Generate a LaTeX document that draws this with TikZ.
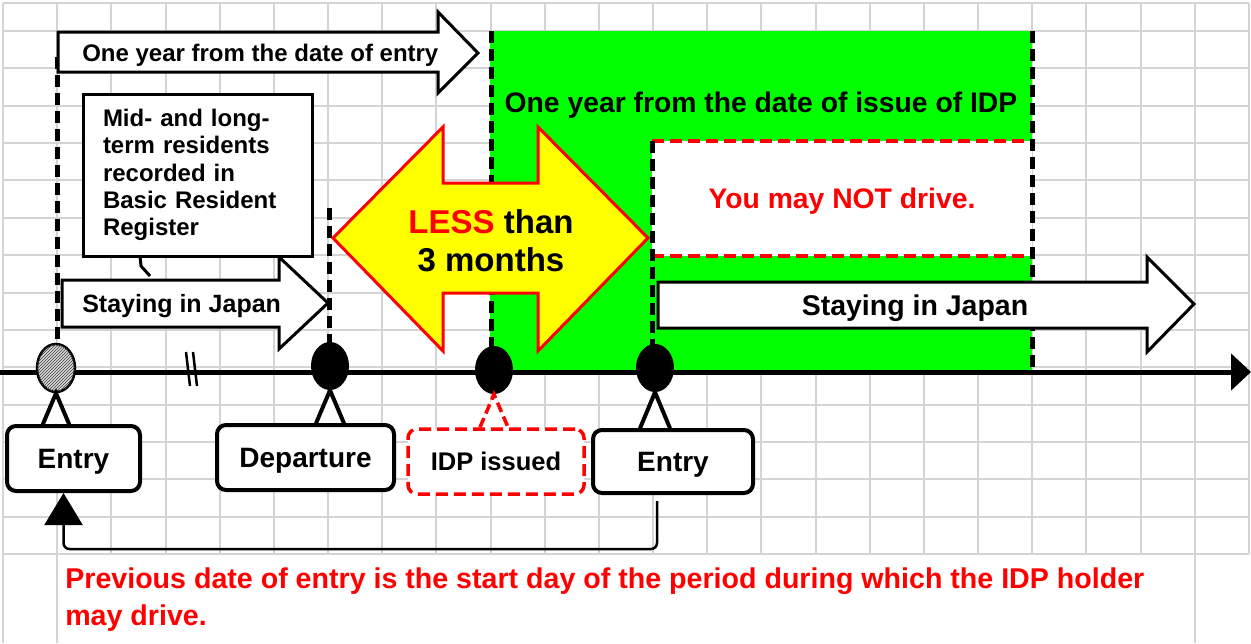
\documentclass[tikz,border=0pt]{standalone}
\usepackage{fontspec}
\setmainfont{Liberation Sans}
\usetikzlibrary{arrows.meta,positioning,shapes.geometric,patterns}

\definecolor{gridgray}{RGB}{212,212,212}
\definecolor{idpgreen}{RGB}{0,255,0}
\definecolor{lessyellow}{RGB}{255,255,0}
\definecolor{warnred}{RGB}{255,0,0}

\begin{document}
\begin{tikzpicture}[
      x = 1pt, y = -1pt, % pixel units, y runs down
      > = {Triangle[length=32pt,width=38pt]}, % arrow head style
      font = \bfseries,
      semithick % line style
      ]

      \tikzset{
      gridline/.style = {draw = gridgray, line width = 2pt},
      timedash/.style = {line width = 5pt, dash pattern = on 12pt off 6pt},
      blockarrow/.style = {draw, line width = 3pt, fill = white},
      dot/.style = {ellipse, fill = black, inner sep = 0pt,
        minimum width = 38pt, minimum height = 48pt},
      wedge/.style = {line width = 4pt, fill = white},
      eventbox/.style = {draw, line width = 4pt, rounded corners = 9pt,
        fill = white, minimum height = 65pt, text height = 20pt, text depth = 0pt,
        font = \bfseries\fontsize{28}{32}\selectfont},
      label/.style = {inner sep = 0pt},
      bigtext/.style = {label, font = \bfseries\fontsize{28.3}{32}\selectfont},
      smalltext/.style = {label, font = \bfseries\fontsize{24}{27.3}\selectfont},
      notetext/.style = {label, text = warnred, font = \bfseries\fontsize{28.6}{37}\selectfont}
      }

      \useasboundingbox (0,0) rectangle (1251,643);

      % sheet grid
      \foreach \i in {0,...,23}
        \draw[gridline] (3+54.17*\i,3) -- (3+54.17*\i,554);
      \foreach \j in {0,...,14}
        \draw[gridline] (3,31+37.36*\j) -- (1249,31+37.36*\j);
      \draw[gridline] (3,3) -- (1249,3);
      \foreach \xx in {3,57,1195}
        \draw[gridline] (\xx,554) -- (\xx,643);

      % period of the IDP
      \fill[idpgreen] (490,31) rectangle (1032,372);
      \fill[white] (652,141) rectangle (1032,256);
      \draw[warnred, timedash, line width = 3.5pt] (652,141) -- (1032,141);
      \draw[warnred, timedash, line width = 3.5pt] (652,256) -- (1032,256);
      \node[bigtext] (idpyear) [anchor=base] at (761,112) {One year from the date of issue of IDP};
      \node[bigtext, text = warnred] (nodrive) [anchor=base] at (842,208) {You may NOT drive.};

      \draw[timedash] (57,57) -- (57,372);
      \draw[timedash] (329,208) -- (329,372);
      \draw[timedash] (491,31) -- (491,372);
      \draw[timedash] (1032,31) -- (1032,372);

      % time axis
      \draw[line width = 5pt, -{Triangle[length=20pt,width=36pt]}] (0,372) -- (1251,372);
      \draw[line width = 2.5pt] (186,352) -- (190,386) (193,352) -- (197,386);

      % less than 3 months
      \draw[fill = lessyellow, draw = warnred, line width = 3pt]
        (333,238) -- (443,127) -- (443,183) -- (538,183) -- (538,127) -- (648,238)
        -- (538,351) -- (538,293) -- (443,293) -- (443,351) -- cycle;
      \node[font = \bfseries\fontsize{33}{38}\selectfont, align = center] (less) at (491,241)
        {\textcolor{warnred}{LESS} than\\3 months};
      \draw[timedash] (652,141) -- (652,372);

      % one year from the date of entry
      \draw[blockarrow] (58,32) -- (438,32) -- (438,12) -- (478,53) -- (438,93)
        -- (438,72) -- (58,72) -- cycle;
      \node[smalltext] (entryyear) [anchor=base west] at (82,61) {One year from the date of entry};

      % staying in Japan
      \draw[blockarrow] (62,280) -- (279,280) -- (279,257) -- (328,303) -- (279,349)
        -- (279,327) -- (62,327) -- cycle;
      \node[smalltext, font = \bfseries\fontsize{25}{28}\selectfont] (stayA) [anchor=base west] at (82,312) {Staying in Japan};
      \draw[blockarrow] (658,282) -- (1147,282) -- (1147,257) -- (1194,304) -- (1147,352)
        -- (1147,328) -- (658,328) -- cycle;
      \node[label, font = \bfseries\fontsize{28.5}{30}\selectfont] (stayB) [anchor=base] at (915,315) {Staying in Japan};

      \node[smalltext, draw, line width = 3pt, fill = white, align = left, text width = 190pt,
        inner xsep = 17pt, inner ysep = 4pt, minimum width = 229pt, minimum height = 162pt] (resid) at (198,175)
        {Mid- and long-\\term residents\\recorded in\\Basic Resident\\Register};
      \draw[line width = 3pt] (140,256) -- ++(1,10) -- (150,276);

      % events
      \node[dot, fill = black!15, draw = black, line width = 2.5pt,
        postaction = {pattern = north east lines, pattern color = black!75}] (dotA) at (56,368) {};
      \node[dot] (dotD) at (330,366) {};
      \node[dot] (dotI) at (494,370) {};
      \node[dot] (dotE) at (655,368) {};

      \draw[wedge] (dotA.south) ++(-14,33) -- (dotA.south) -- ++(14,33);
      \draw[wedge] (dotD.south) ++(-14,33) -- (dotD.south) -- ++(14,33);
      \draw[wedge, draw = warnred, line width = 3.5pt, dash pattern = on 10pt off 5pt]
        (dotI.south) ++(-14,33) -- (dotI.south) -- ++(14,33);
      \draw[wedge] (dotE.south) ++(-15,36) -- (dotE.south) -- ++(15,36);

      \node[eventbox, minimum width = 133pt] (entryA) at (73.5,458.5) {Entry};
      \node[eventbox, minimum width = 177pt] (depart) at (305.5,457.5) {Departure};
      \node[eventbox, minimum width = 176pt, draw = warnred, line width = 3.5pt,
        dash pattern = on 12pt off 6pt, text height = 18pt,
        font = \bfseries\fontsize{25.5}{30}\selectfont] (idp) at (496,461.5) {IDP issued};
      \node[eventbox, minimum width = 160pt, minimum height = 63pt] (entryB) at (673,461.5) {Entry};

      % back to the previous entry
      \draw[line width = 2.5pt, rounded corners = 6pt, ->]
        ([xshift=-16pt]entryB.south) ++(0,6) -- ++(0,48) -| ([xshift=-10pt]entryA.south);

      \node[notetext] (note) [anchor=base west] at (65,588)
        {Previous date of entry is the start day of the period during which the IDP holder};
      \node[notetext] (note2) [anchor=base west] at (65,625) {may drive.};

    \end{tikzpicture}
\end{document}
